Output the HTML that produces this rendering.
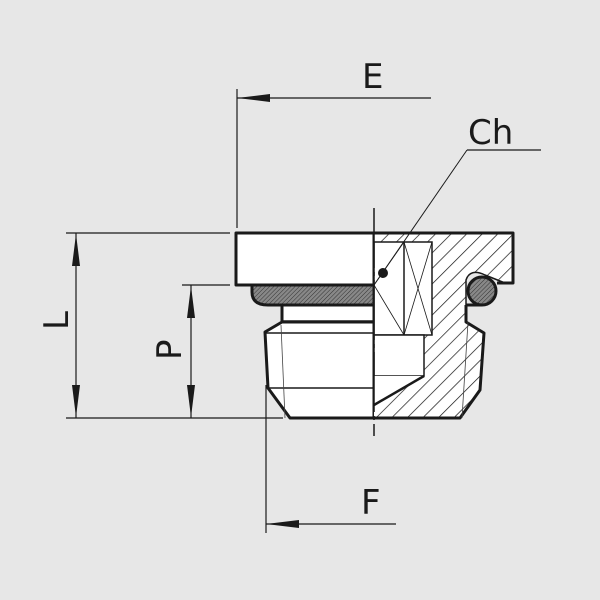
<!DOCTYPE html>
<html><head><meta charset="utf-8"><style>
html,body{margin:0;padding:0;background:#e7e7e7;}
svg{display:block;}
text{font-family:"DejaVu Sans","Liberation Sans",sans-serif;fill:#1a1a1a;}
</style></head><body>
<svg width="600" height="600" viewBox="0 0 600 600" xmlns="http://www.w3.org/2000/svg">
<defs>
<pattern id="h" width="11" height="11" patternUnits="userSpaceOnUse" patternTransform="rotate(45)">
<line x1="0" y1="0" x2="0" y2="11" stroke="#111" stroke-width="1.4"/>
</pattern>
<pattern id="g" width="3" height="3" patternUnits="userSpaceOnUse" patternTransform="rotate(45)">
<rect width="3" height="3" fill="#888"/><line x1="0" y1="0" x2="0" y2="3" stroke="#333" stroke-width="1"/>
</pattern>
<clipPath id="rc"><polygon points="374,233 513,233 513,283 466,283 466,322 484,333 480,390 460,418 374,418"/></clipPath>
</defs>
<rect width="600" height="600" fill="#e7e7e7"/>
<g stroke="#1a1a1a" fill="none" stroke-width="1.2">
<line x1="237" y1="89" x2="237" y2="228"/>
<line x1="237" y1="98" x2="431" y2="98"/>
<line x1="66" y1="233" x2="230" y2="233"/>
<line x1="66" y1="418" x2="283" y2="418"/>
<line x1="76" y1="233" x2="76" y2="418"/>
<line x1="182" y1="285" x2="230" y2="285"/>
<line x1="191" y1="285" x2="191" y2="418"/>
<line x1="266" y1="385" x2="266" y2="533"/>
<line x1="266" y1="524" x2="396" y2="524"/>
<line x1="467" y1="150" x2="541" y2="150"/>
</g>
<g fill="#1a1a1a">
<polygon points="237,98 270,94 270,102"/>
<polygon points="266,524 299,520 299,528"/>
<polygon points="76,234 72,266 80,266"/>
<polygon points="76,417 72,385 80,385"/>
<polygon points="191,286 187,318 195,318"/>
<polygon points="191,417 187,385 195,385"/>
</g>
<g stroke="#1a1a1a" stroke-width="3" stroke-linejoin="round">
<rect x="236" y="233" width="138" height="52" fill="#fff"/>
<path d="M252,285 L374,285 L374,305 L268,305 Q252,305 252,292 Z" fill="url(#g)"/>
<rect x="282" y="305" width="92" height="17" fill="#fff"/>
<path d="M282,322 L265,332 L268,388 L290,418 L374,418 L374,322 Z" fill="#fff"/>
</g>
<g stroke="#1a1a1a" stroke-width="1.5">
<line x1="282" y1="321" x2="374" y2="321"/>
<line x1="266" y1="333" x2="374" y2="333"/>
<line x1="268" y1="388" x2="374" y2="388"/>
</g>
<line x1="281" y1="325" x2="285" y2="418" stroke="#444" stroke-width="0.8"/>
<polygon points="374,233 513,233 513,283 466,283 466,322 484,333 480,390 460,418 374,418" fill="#fff"/>
<rect x="374" y="233" width="140" height="186" fill="url(#h)" clip-path="url(#rc)"/>
<g stroke="#1a1a1a" stroke-width="1.5" fill="#fff">
<rect x="374" y="242" width="58" height="93"/>
<rect x="374" y="335" width="50" height="41"/>
<polygon points="374,376 424,376 374,405" stroke="none"/>
<line x1="424" y1="376" x2="374" y2="405" stroke-width="2.5"/>
<line x1="404" y1="242" x2="404" y2="335"/>
</g>
<g stroke="#1a1a1a" stroke-width="0.8">
<line x1="374" y1="285" x2="404" y2="242"/><line x1="374" y1="285" x2="404" y2="335"/>
<line x1="404" y1="242" x2="432" y2="335"/><line x1="432" y1="242" x2="404" y2="335"/>
<line x1="374" y1="242" x2="374" y2="290"/>
</g>
<path d="M466,305 L466,280 Q470,268 485,275 L505,283" fill="#e7e7e7" stroke="#1a1a1a" stroke-width="1.5"/>
<path d="M497,283 L505,283" stroke="#e7e7e7" stroke-width="3"/>
<circle cx="482" cy="291" r="14" fill="url(#g)" stroke="#1a1a1a" stroke-width="3"/>
<g stroke="#1a1a1a" stroke-width="3" fill="none" stroke-linejoin="round">
<path d="M374,233 L513,233 L513,283 L497,283"/>
<path d="M466,305 L466,322 L484,333 L480,390 L460,418 L374,418"/>
<line x1="466" y1="305" x2="482" y2="305"/>
</g>
<line x1="468" y1="322" x2="462" y2="418" stroke="#444" stroke-width="0.8"/>
<line x1="374" y1="208" x2="374" y2="436" stroke="#1a1a1a" stroke-width="1.5" stroke-dasharray="60,4,4,4"/>
<line x1="467" y1="150" x2="374" y2="285" stroke="#1a1a1a" stroke-width="1"/>
<circle cx="383" cy="273" r="5" fill="#1a1a1a"/>
<text x="362" y="88" font-size="34">E</text>
<text x="468" y="144" font-size="34">Ch</text>
<text x="361" y="514" font-size="34">F</text>
<text transform="translate(68,330) rotate(-90)" font-size="34">L</text>
<text transform="translate(181,360) rotate(-90)" font-size="34">P</text>
</svg>
</body></html>
